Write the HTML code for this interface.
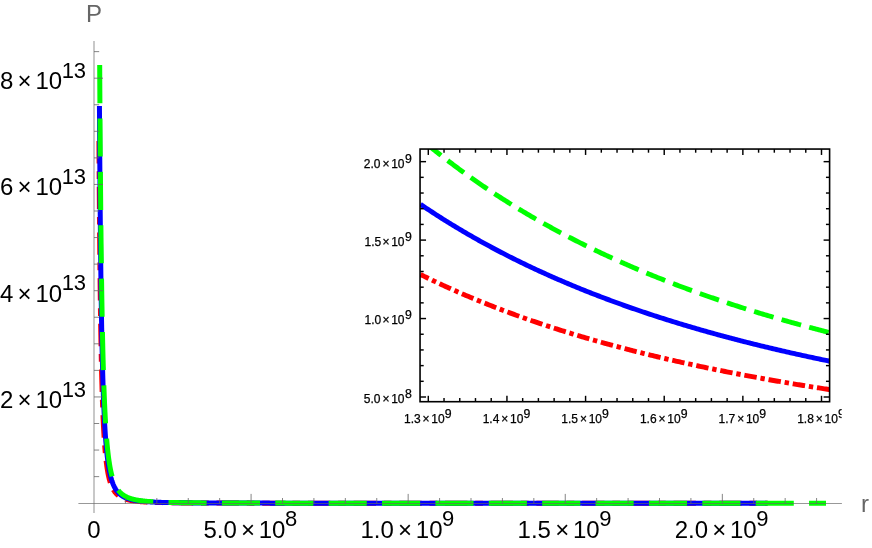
<!DOCTYPE html>
<html><head><meta charset="utf-8"><title>Plot</title>
<style>html,body{margin:0;padding:0;background:#fff;}body{width:872px;height:548px;overflow:hidden;position:relative;font-family:"Liberation Sans",sans-serif;}</style>
</head><body>
<svg width="872" height="548" viewBox="0 0 872 548" style="position:absolute;left:0;top:0;will-change:transform">
<rect width="872" height="548" fill="#fff"/>
<g fill="none" stroke-linecap="butt" stroke-linejoin="round" transform="translate(-0.4,0)">
<path d="M99.34 141.00 L99.38 148.27 L99.42 155.39 L99.47 162.37 L99.51 169.21 L99.56 175.91 L99.60 182.48 L99.65 188.91 L99.69 195.22 L99.74 201.40 L99.79 207.46 L99.83 213.39 L99.88 219.21 L99.93 224.90 L99.97 230.49 L100.02 235.96 L100.07 241.32 L100.12 246.58 L100.17 251.73 L100.22 256.77 L100.27 261.72 L100.32 266.56 L100.37 271.31 L100.42 275.97 L100.48 280.53 L100.53 284.99 L100.58 289.37 L100.64 293.66 L100.69 297.87 L100.74 301.99 L100.80 306.03 L100.85 309.98 L100.91 313.86 L100.96 317.66 L101.02 321.38 L101.08 325.03 L101.13 328.61 L101.19 332.11 L101.25 335.54 L101.31 338.91 L101.37 342.20 L101.43 345.43 L101.49 348.60 L101.55 351.70 L101.61 354.74 L101.67 357.72 L101.73 360.64 L101.80 363.50 L101.86 366.30 L101.92 369.05 L101.99 371.74 L102.05 374.38 L102.12 376.97 L102.18 379.50 L102.25 381.98 L102.32 384.41 L102.38 386.80 L102.45 389.13 L102.52 391.42 L102.59 393.66 L102.66 395.86 L102.73 398.02 L102.80 400.13 L102.87 402.20 L102.94 404.22 L103.01 406.21 L103.09 408.15 L103.16 410.06 L103.24 411.93 L103.31 413.76 L103.39 415.56 L103.46 417.32 L103.54 419.04 L103.62 420.73 L103.69 422.38 L103.77 424.00 L103.85 425.59 L103.93 427.15 L104.01 428.68 L104.09 430.17 L104.17 431.64 L104.26 433.07 L104.34 434.48 L104.42 435.86 L104.51 437.21 L104.59 438.53 L104.68 439.83 L104.76 441.10 L104.85 442.35 L104.94 443.57 L105.03 444.77 L105.12 445.94 L105.21 447.09 L105.30 448.22 L105.39 449.32 L105.48 450.40 L105.57 451.46 L105.67 452.50 L105.76 453.51 L105.86 454.51 L105.95 455.49 L106.05 456.45 L106.15 457.38 L106.25 458.30 L106.35 459.20 L106.45 460.09 L106.55 460.95 L106.65 461.80 L106.75 462.63 L106.85 463.45 L106.96 464.24 L107.06 465.02 L107.17 465.79 L107.28 466.54 L107.38 467.28 L107.49 468.00 L107.60 468.70 L107.71 469.40 L107.82 470.07 L107.93 470.74 L108.05 471.39 L108.16 472.03 L108.28 472.65 L108.39 473.27 L108.51 473.87 L108.62 474.46 L108.74 475.03 L108.86 475.60 L108.98 476.15 L109.10 476.70 L109.23 477.23 L109.35 477.75 L109.47 478.26 L109.60 478.76 L109.73 479.25 L109.85 479.73 L109.98 480.20 L110.11 480.66 L110.24 481.12 L110.37 481.56 L110.51 481.99 L110.64 482.42 L110.77 482.84 L110.91 483.24 L111.05 483.64 L111.18 484.04 L111.32 484.42 L111.46 484.80 L111.61 485.17 L111.75 485.53 L111.89 485.88 L112.04 486.23 L112.18 486.57 L112.33 486.91 L112.48 487.23 L112.63 487.55 L112.78 487.87 L112.93 488.17 L113.08 488.48 L113.24 488.77 L113.39 489.06 L113.55 489.34 L113.71 489.62 L113.87 489.90 L114.03 490.16 L114.19 490.42 L114.36 490.68 L114.52 490.93 L114.69 491.18 L114.85 491.42 L115.02 491.66 L115.19 491.89 L115.36 492.11 L115.54 492.34 L115.71 492.55 L115.89 492.77 L116.06 492.98 L116.24 493.18 L116.42 493.38 L116.61 493.58 L116.79 493.77 L116.97 493.96 L117.16 494.15 L117.35 494.33 L117.54 494.51 L117.73 494.68 L117.92 494.85 L118.11 495.02 L118.31 495.18 L118.50 495.35 L118.70 495.50 L118.90 495.66 L119.10 495.81 L119.31 495.96 L119.51 496.10 L119.72 496.24 L119.93 496.38 L120.14 496.52 L120.35 496.66 L120.56 496.79 L120.78 496.92 L120.99 497.04 L121.21 497.16 L121.43 497.29 L121.65 497.40 L121.88 497.52 L122.10 497.63 L122.33 497.75 L122.56 497.86 L122.79 497.96 L123.03 498.07 L123.26 498.17 L123.50 498.27 L123.74 498.37 L123.98 498.47 L124.22 498.56 L124.46 498.66 L124.71 498.75 L124.96 498.84 L125.21 498.92 L125.46 499.01 L125.72 499.09 L125.97 499.18 L126.23 499.26 L126.49 499.34 L126.76 499.41 L127.02 499.49 L127.29 499.56 L127.56 499.64 L127.83 499.71 L128.11 499.78 L128.38 499.85 L128.66 499.91 L128.94 499.98 L129.22 500.05 L129.51 500.11 L129.80 500.17 L130.09 500.23 L130.38 500.29 L130.67 500.35 L130.97 500.41 L131.27 500.46 L131.57 500.52 L131.88 500.57 L132.18 500.62 L132.49 500.68 L132.80 500.73 L133.12 500.78 L133.43 500.82 L133.75 500.87 L134.07 500.92 L134.40 500.96 L134.73 501.01 L135.06 501.05 L135.39 501.10 L135.72 501.14 L136.06 501.18 L136.40 501.22 L136.75 501.26 L137.09 501.30 L137.44 501.34 L137.79 501.37 L138.15 501.41 L138.50 501.45 L138.86 501.48 L139.23 501.52 L139.59 501.55 L139.96 501.58 L140.34 501.62 L140.71 501.65 L141.09 501.68 L141.47 501.71 L141.85 501.74 L142.24 501.77 L142.63 501.80 L143.03 501.83 L143.42 501.85 L143.82 501.88 L144.23 501.91 L144.63 501.93 L145.04 501.96 L145.46 501.98 L145.87 502.01 L146.29 502.03 L146.72 502.05 L147.14 502.08 L147.57 502.10 L148.01 502.12 L148.44 502.14 L148.89 502.17 L149.33 502.19 L149.78 502.21 L150.23 502.23 L150.68 502.25 L151.14 502.27 L151.61 502.28 L152.07 502.30 L152.54 502.32 L153.02 502.34 L153.49 502.36 L153.98 502.37 L154.46 502.39 L154.95 502.41 L155.45 502.42 L155.94 502.44 L156.44 502.45 L156.95 502.47 L157.46 502.48 L157.97 502.50 L158.49 502.51 L159.01 502.52 L159.54 502.54 L160.07 502.55 L160.61 502.56 L161.14 502.58 L161.69 502.59 L162.24 502.60 L162.79 502.61 L163.35 502.63 L163.91 502.64 L164.47 502.65 L165.04 502.66 L165.62 502.67 L166.20 502.68 L166.78 502.69 L167.37 502.70 L167.97 502.71 L168.57 502.72 L169.17 502.73 L169.78 502.74 L170.39 502.75 L171.01 502.76 L171.63 502.77 L172.26 502.78 L172.90 502.78 L173.54 502.79 L174.18 502.80 L174.83 502.81 L175.48 502.82 L176.14 502.82 L176.81 502.83 L177.48 502.84 L178.15 502.85 L178.84 502.85 L179.52 502.86 L180.22 502.87 L180.91 502.87 L181.62 502.88 L182.33 502.89 L183.04 502.89 L183.76 502.90 L184.49 502.91 L185.22 502.91 L185.96 502.92 L186.71 502.92 L187.46 502.93 L188.21 502.93 L188.98 502.94 L189.74 502.94 L190.52 502.95 L191.30 502.95 L192.09 502.96 L192.88 502.96 L193.68 502.97 L194.49 502.97 L195.30 502.98 L196.12 502.98 L196.95 502.99 L197.79 502.99 L198.63 503.00 L199.47 503.00 L200.33 503.00 L201.19 503.01 L202.06 503.01 L202.93 503.02 L203.81 503.02 L204.70 503.02 L205.60 503.03 L206.50 503.03 L207.41 503.03 L208.33 503.04 L209.26 503.04 L210.19 503.04 L211.13 503.05 L212.08 503.05 L213.03 503.05 L214.00 503.06 L214.97 503.06 L215.95 503.06 L216.94 503.06 L217.93 503.07 L218.94 503.07 L219.95 503.07 L220.97 503.07 L222.00 503.08 L223.03 503.08 L224.08 503.08 L225.13 503.08 L226.19 503.09 L227.26 503.09 L228.34 503.09 L229.43 503.09 L230.53 503.10 L231.63 503.10 L232.74 503.10 L233.87 503.10 L235.00 503.10 L236.14 503.11 L237.29 503.11 L238.45 503.11 L239.62 503.11 L240.80 503.11 L241.99 503.11 L243.19 503.12 L244.40 503.12 L245.61 503.12 L246.84 503.12 L248.08 503.12 L249.33 503.12 L250.59 503.13 L251.85 503.13 L253.13 503.13 L254.42 503.13 L255.72 503.13 L257.03 503.13 L258.35 503.13 L259.68 503.14 L261.02 503.14 L262.37 503.14 L263.74 503.14 L265.11 503.14 L266.50 503.14 L267.89 503.14 L269.30 503.14 L270.72 503.15 L272.15 503.15 L273.59 503.15 L275.05 503.15 L276.51 503.15 L277.99 503.15 L279.48 503.15 L280.98 503.15 L282.50 503.15 L284.02 503.15 L285.56 503.16 L287.11 503.16 L288.68 503.16 L290.25 503.16 L291.84 503.16 L293.44 503.16 L295.06 503.16 L296.69 503.16 L298.33 503.16 L299.98 503.16 L301.65 503.16 L303.33 503.16 L305.03 503.16 L306.73 503.17 L308.46 503.17 L310.19 503.17 L311.94 503.17 L313.71 503.17 L315.49 503.17 L317.28 503.17 L319.09 503.17 L320.91 503.17 L322.75 503.17 L324.60 503.17 L326.47 503.17 L328.35 503.17 L330.25 503.17 L332.16 503.17 L334.09 503.17 L336.03 503.18 L337.99 503.18 L339.97 503.18 L341.96 503.18 L343.97 503.18 L345.99 503.18 L348.03 503.18 L350.09 503.18 L352.16 503.18 L354.25 503.18 L356.36 503.18 L358.48 503.18 L360.62 503.18 L362.78 503.18 L364.96 503.18 L367.15 503.18 L369.37 503.18 L371.59 503.18 L373.84 503.18 L376.11 503.18 L378.39 503.18 L380.70 503.18 L383.02 503.18 L385.36 503.18 L387.72 503.18 L390.09 503.19 L392.49 503.19 L394.91 503.19 L397.34 503.19 L399.80 503.19 L402.28 503.19 L404.77 503.19 L407.29 503.19 L409.83 503.19 L412.38 503.19 L414.96 503.19 L417.56 503.19 L420.18 503.19 L422.82 503.19 L425.48 503.19 L428.17 503.19 L430.87 503.19 L433.60 503.19 L436.35 503.19 L439.12 503.19 L441.92 503.19 L444.73 503.19 L447.57 503.19 L450.44 503.19 L453.32 503.19 L456.23 503.19 L459.16 503.19 L462.12 503.19 L465.10 503.19 L468.11 503.19 L471.14 503.19 L474.19 503.19 L477.27 503.19 L480.37 503.19 L483.50 503.19 L486.65 503.19 L489.83 503.19 L493.04 503.19 L496.27 503.19 L499.52 503.19 L502.81 503.19 L506.12 503.19 L509.46 503.19 L512.82 503.19 L516.21 503.19 L519.63 503.19 L523.08 503.19 L526.55 503.19 L530.05 503.19 L533.58 503.19 L537.14 503.19 L540.73 503.19 L544.35 503.19 L547.99 503.19 L551.67 503.19 L555.37 503.20 L559.11 503.20 L562.88 503.20 L566.67 503.20 L570.50 503.20 L574.36 503.20 L578.25 503.20 L582.17 503.20 L586.12 503.20 L590.11 503.20 L594.12 503.20 L598.17 503.20 L602.25 503.20 L606.37 503.20 L610.52 503.20 L614.70 503.20 L618.92 503.20 L623.17 503.20 L627.45 503.20 L631.77 503.20 L636.12 503.20 L640.51 503.20 L644.94 503.20 L649.40 503.20 L653.90 503.20 L658.43 503.20 L663.00 503.20 L667.61 503.20 L672.25 503.20 L676.93 503.20 L681.65 503.20 L686.41 503.20 L691.21 503.20 L696.04 503.20 L700.92 503.20 L705.83 503.20 L710.79 503.20 L715.78 503.20 L720.82 503.20 L725.89 503.20 L731.01 503.20 L736.16 503.20 L741.36 503.20 L746.61 503.20 L751.89 503.20 L757.22 503.20 L762.59 503.20 L768.00 503.20" stroke="#ff0000" stroke-width="5.00" stroke-dasharray="22.4 7.8 7.7 7.8"/>
<path d="M99.84 106.00 L99.89 113.84 L99.94 121.52 L99.98 129.05 L100.03 136.44 L100.08 143.68 L100.13 150.77 L100.17 157.73 L100.22 164.54 L100.27 171.23 L100.32 177.78 L100.37 184.20 L100.42 190.50 L100.47 196.67 L100.53 202.72 L100.58 208.65 L100.63 214.46 L100.68 220.16 L100.74 225.74 L100.79 231.22 L100.84 236.59 L100.90 241.85 L100.95 247.01 L101.01 252.06 L101.06 257.02 L101.12 261.88 L101.18 266.64 L101.23 271.31 L101.29 275.88 L101.35 280.37 L101.41 284.77 L101.47 289.08 L101.53 293.30 L101.59 297.45 L101.65 301.51 L101.71 305.49 L101.77 309.39 L101.83 313.21 L101.89 316.96 L101.95 320.64 L102.02 324.24 L102.08 327.77 L102.15 331.23 L102.21 334.63 L102.28 337.95 L102.34 341.22 L102.41 344.41 L102.47 347.55 L102.54 350.62 L102.61 353.63 L102.68 356.58 L102.75 359.47 L102.82 362.31 L102.89 365.09 L102.96 367.82 L103.03 370.49 L103.10 373.11 L103.17 375.67 L103.24 378.19 L103.32 380.66 L103.39 383.08 L103.47 385.45 L103.54 387.77 L103.62 390.05 L103.69 392.28 L103.77 394.47 L103.85 396.62 L103.93 398.72 L104.01 400.78 L104.09 402.80 L104.17 404.78 L104.25 406.73 L104.33 408.63 L104.41 410.50 L104.49 412.33 L104.58 414.12 L104.66 415.88 L104.74 417.60 L104.83 419.29 L104.92 420.95 L105.00 422.57 L105.09 424.16 L105.18 425.72 L105.27 427.25 L105.36 428.75 L105.45 430.22 L105.54 431.66 L105.63 433.07 L105.72 434.45 L105.81 435.81 L105.91 437.14 L106.00 438.44 L106.10 439.72 L106.19 440.97 L106.29 442.20 L106.39 443.41 L106.49 444.59 L106.59 445.74 L106.69 446.88 L106.79 447.99 L106.89 449.08 L106.99 450.15 L107.10 451.19 L107.20 452.22 L107.30 453.23 L107.41 454.21 L107.52 455.18 L107.62 456.13 L107.73 457.06 L107.84 457.97 L107.95 458.86 L108.06 459.73 L108.17 460.59 L108.29 461.43 L108.40 462.26 L108.51 463.06 L108.63 463.86 L108.75 464.63 L108.86 465.39 L108.98 466.14 L109.10 466.87 L109.22 467.59 L109.34 468.29 L109.46 468.98 L109.59 469.66 L109.71 470.32 L109.83 470.97 L109.96 471.60 L110.09 472.23 L110.21 472.84 L110.34 473.44 L110.47 474.02 L110.60 474.60 L110.74 475.16 L110.87 475.72 L111.00 476.26 L111.14 476.79 L111.27 477.31 L111.41 477.82 L111.55 478.32 L111.69 478.82 L111.83 479.30 L111.97 479.77 L112.11 480.23 L112.26 480.68 L112.40 481.13 L112.55 481.56 L112.70 481.99 L112.85 482.41 L113.00 482.82 L113.15 483.22 L113.30 483.62 L113.45 484.00 L113.61 484.38 L113.76 484.75 L113.92 485.12 L114.08 485.47 L114.24 485.82 L114.40 486.17 L114.56 486.50 L114.72 486.83 L114.89 487.16 L115.05 487.47 L115.22 487.78 L115.39 488.09 L115.56 488.38 L115.73 488.68 L115.90 488.96 L116.08 489.24 L116.25 489.52 L116.43 489.79 L116.61 490.05 L116.79 490.31 L116.97 490.57 L117.15 490.82 L117.33 491.06 L117.52 491.30 L117.71 491.54 L117.90 491.77 L118.09 491.99 L118.28 492.21 L118.47 492.43 L118.66 492.64 L118.86 492.85 L119.06 493.06 L119.26 493.26 L119.46 493.45 L119.66 493.64 L119.86 493.83 L120.07 494.02 L120.28 494.20 L120.48 494.38 L120.69 494.55 L120.91 494.72 L121.12 494.89 L121.34 495.05 L121.55 495.21 L121.77 495.37 L121.99 495.53 L122.22 495.68 L122.44 495.83 L122.67 495.97 L122.89 496.11 L123.12 496.25 L123.35 496.39 L123.59 496.53 L123.82 496.66 L124.06 496.79 L124.30 496.91 L124.54 497.04 L124.78 497.16 L125.03 497.28 L125.27 497.39 L125.52 497.51 L125.77 497.62 L126.02 497.73 L126.28 497.84 L126.53 497.94 L126.79 498.05 L127.05 498.15 L127.32 498.25 L127.58 498.35 L127.85 498.44 L128.12 498.54 L128.39 498.63 L128.66 498.72 L128.94 498.81 L129.21 498.89 L129.49 498.98 L129.78 499.06 L130.06 499.14 L130.35 499.22 L130.64 499.30 L130.93 499.38 L131.22 499.46 L131.52 499.53 L131.81 499.60 L132.11 499.67 L132.42 499.74 L132.72 499.81 L133.03 499.88 L133.34 499.94 L133.65 500.01 L133.97 500.07 L134.28 500.13 L134.61 500.19 L134.93 500.25 L135.25 500.31 L135.58 500.37 L135.91 500.42 L136.24 500.48 L136.58 500.53 L136.92 500.58 L137.26 500.64 L137.60 500.69 L137.95 500.74 L138.30 500.78 L138.65 500.83 L139.00 500.88 L139.36 500.92 L139.72 500.97 L140.09 501.01 L140.45 501.06 L140.82 501.10 L141.19 501.14 L141.57 501.18 L141.95 501.22 L142.33 501.26 L142.71 501.30 L143.10 501.34 L143.49 501.37 L143.88 501.41 L144.28 501.44 L144.68 501.48 L145.08 501.51 L145.49 501.55 L145.89 501.58 L146.31 501.61 L146.72 501.64 L147.14 501.67 L147.56 501.70 L147.99 501.73 L148.42 501.76 L148.85 501.79 L149.29 501.82 L149.73 501.84 L150.17 501.87 L150.61 501.90 L151.06 501.92 L151.52 501.95 L151.97 501.97 L152.44 502.00 L152.90 502.02 L153.37 502.04 L153.84 502.07 L154.31 502.09 L154.79 502.11 L155.28 502.13 L155.76 502.15 L156.25 502.17 L156.75 502.20 L157.25 502.21 L157.75 502.23 L158.26 502.25 L158.77 502.27 L159.28 502.29 L159.80 502.31 L160.32 502.33 L160.85 502.34 L161.38 502.36 L161.92 502.38 L162.46 502.39 L163.00 502.41 L163.55 502.42 L164.10 502.44 L164.66 502.45 L165.22 502.47 L165.78 502.48 L166.36 502.50 L166.93 502.51 L167.51 502.53 L168.09 502.54 L168.68 502.55 L169.28 502.56 L169.87 502.58 L170.48 502.59 L171.08 502.60 L171.70 502.61 L172.31 502.62 L172.94 502.64 L173.56 502.65 L174.20 502.66 L174.83 502.67 L175.47 502.68 L176.12 502.69 L176.77 502.70 L177.43 502.71 L178.09 502.72 L178.76 502.73 L179.44 502.74 L180.12 502.75 L180.80 502.76 L181.49 502.76 L182.18 502.77 L182.88 502.78 L183.59 502.79 L184.30 502.80 L185.02 502.81 L185.74 502.81 L186.47 502.82 L187.21 502.83 L187.95 502.84 L188.69 502.84 L189.45 502.85 L190.20 502.86 L190.97 502.86 L191.74 502.87 L192.52 502.88 L193.30 502.88 L194.09 502.89 L194.88 502.90 L195.68 502.90 L196.49 502.91 L197.31 502.91 L198.13 502.92 L198.95 502.92 L199.79 502.93 L200.63 502.94 L201.48 502.94 L202.33 502.95 L203.19 502.95 L204.06 502.96 L204.93 502.96 L205.81 502.97 L206.70 502.97 L207.60 502.97 L208.50 502.98 L209.41 502.98 L210.33 502.99 L211.25 502.99 L212.18 503.00 L213.12 503.00 L214.07 503.00 L215.02 503.01 L215.98 503.01 L216.95 503.02 L217.93 503.02 L218.91 503.02 L219.91 503.03 L220.91 503.03 L221.92 503.03 L222.93 503.04 L223.96 503.04 L224.99 503.04 L226.03 503.05 L227.08 503.05 L228.14 503.05 L229.20 503.05 L230.28 503.06 L231.36 503.06 L232.45 503.06 L233.55 503.07 L234.66 503.07 L235.78 503.07 L236.90 503.07 L238.04 503.08 L239.18 503.08 L240.34 503.08 L241.50 503.08 L242.67 503.09 L243.85 503.09 L245.04 503.09 L246.24 503.09 L247.45 503.09 L248.67 503.10 L249.90 503.10 L251.14 503.10 L252.39 503.10 L253.64 503.10 L254.91 503.11 L256.19 503.11 L257.48 503.11 L258.78 503.11 L260.09 503.11 L261.41 503.12 L262.74 503.12 L264.08 503.12 L265.43 503.12 L266.79 503.12 L268.16 503.12 L269.55 503.12 L270.94 503.13 L272.35 503.13 L273.77 503.13 L275.19 503.13 L276.63 503.13 L278.08 503.13 L279.55 503.13 L281.02 503.14 L282.51 503.14 L284.00 503.14 L285.51 503.14 L287.04 503.14 L288.57 503.14 L290.12 503.14 L291.67 503.14 L293.24 503.15 L294.83 503.15 L296.42 503.15 L298.03 503.15 L299.65 503.15 L301.29 503.15 L302.93 503.15 L304.59 503.15 L306.27 503.15 L307.95 503.15 L309.65 503.16 L311.37 503.16 L313.09 503.16 L314.83 503.16 L316.59 503.16 L318.36 503.16 L320.14 503.16 L321.94 503.16 L323.75 503.16 L325.57 503.16 L327.41 503.16 L329.27 503.16 L331.14 503.16 L333.02 503.17 L334.92 503.17 L336.83 503.17 L338.76 503.17 L340.71 503.17 L342.67 503.17 L344.64 503.17 L346.63 503.17 L348.64 503.17 L350.66 503.17 L352.70 503.17 L354.76 503.17 L356.83 503.17 L358.92 503.17 L361.02 503.17 L363.14 503.17 L365.28 503.17 L367.44 503.18 L369.61 503.18 L371.80 503.18 L374.01 503.18 L376.23 503.18 L378.47 503.18 L380.73 503.18 L383.01 503.18 L385.31 503.18 L387.62 503.18 L389.96 503.18 L392.31 503.18 L394.68 503.18 L397.07 503.18 L399.47 503.18 L401.90 503.18 L404.35 503.18 L406.81 503.18 L409.30 503.18 L411.80 503.18 L414.33 503.18 L416.87 503.18 L419.44 503.18 L422.03 503.18 L424.63 503.18 L427.26 503.19 L429.91 503.19 L432.57 503.19 L435.26 503.19 L437.98 503.19 L440.71 503.19 L443.46 503.19 L446.24 503.19 L449.04 503.19 L451.86 503.19 L454.70 503.19 L457.57 503.19 L460.46 503.19 L463.37 503.19 L466.30 503.19 L469.26 503.19 L472.24 503.19 L475.25 503.19 L478.28 503.19 L481.33 503.19 L484.41 503.19 L487.51 503.19 L490.64 503.19 L493.79 503.19 L496.96 503.19 L500.16 503.19 L503.39 503.19 L506.64 503.19 L509.92 503.19 L513.23 503.19 L516.56 503.19 L519.91 503.19 L523.30 503.19 L526.71 503.19 L530.15 503.19 L533.61 503.19 L537.11 503.19 L540.63 503.19 L544.17 503.19 L547.75 503.19 L551.36 503.19 L554.99 503.19 L558.65 503.19 L562.34 503.19 L566.07 503.19 L569.82 503.19 L573.60 503.19 L577.41 503.19 L581.25 503.19 L585.12 503.19 L589.02 503.19 L592.95 503.19 L596.92 503.19 L600.91 503.19 L604.94 503.19 L609.00 503.19 L613.09 503.20 L617.22 503.20 L621.37 503.20 L625.56 503.20 L629.79 503.20 L634.04 503.20 L638.33 503.20 L642.66 503.20 L647.02 503.20 L651.41 503.20 L655.84 503.20 L660.30 503.20 L664.80 503.20 L669.34 503.20 L673.91 503.20 L678.52 503.20 L683.16 503.20 L687.84 503.20 L692.56 503.20 L697.31 503.20 L702.11 503.20 L706.94 503.20 L711.81 503.20 L716.72 503.20 L721.67 503.20 L726.65 503.20 L731.68 503.20 L736.75 503.20 L741.85 503.20 L747.00 503.20 L752.19 503.20 L757.42 503.20 L762.69 503.20 L768.00 503.20" stroke="#0000ff" stroke-width="5.00"/>
<path d="M100.09 65.10 L100.14 73.81 L100.18 82.34 L100.23 90.70 L100.28 98.90 L100.33 106.94 L100.39 114.81 L100.44 122.53 L100.49 130.09 L100.54 137.51 L100.59 144.78 L100.65 151.90 L100.70 158.88 L100.75 165.72 L100.81 172.43 L100.86 179.00 L100.92 185.45 L100.97 191.76 L101.03 197.95 L101.08 204.02 L101.14 209.96 L101.20 215.79 L101.26 221.50 L101.31 227.10 L101.37 232.59 L101.43 237.96 L101.49 243.24 L101.55 248.40 L101.61 253.47 L101.67 258.43 L101.73 263.29 L101.80 268.06 L101.86 272.73 L101.92 277.31 L101.99 281.80 L102.05 286.20 L102.11 290.52 L102.18 294.74 L102.24 298.88 L102.31 302.94 L102.38 306.92 L102.44 310.83 L102.51 314.65 L102.58 318.40 L102.65 322.07 L102.72 325.67 L102.79 329.20 L102.86 332.65 L102.93 336.04 L103.00 339.37 L103.07 342.62 L103.15 345.81 L103.22 348.94 L103.29 352.01 L103.37 355.01 L103.44 357.96 L103.52 360.84 L103.59 363.67 L103.67 366.44 L103.75 369.16 L103.83 371.83 L103.91 374.44 L103.99 376.99 L104.07 379.50 L104.15 381.96 L104.23 384.37 L104.31 386.73 L104.39 389.05 L104.48 391.32 L104.56 393.54 L104.64 395.72 L104.73 397.85 L104.82 399.95 L104.90 402.00 L104.99 404.01 L105.08 405.98 L105.17 407.91 L105.26 409.81 L105.35 411.66 L105.44 413.48 L105.53 415.27 L105.62 417.01 L105.71 418.73 L105.81 420.40 L105.90 422.05 L106.00 423.66 L106.09 425.24 L106.19 426.79 L106.29 428.31 L106.39 429.80 L106.49 431.26 L106.59 432.69 L106.69 434.09 L106.79 435.46 L106.89 436.81 L107.00 438.13 L107.10 439.42 L107.20 440.69 L107.31 441.93 L107.42 443.15 L107.52 444.34 L107.63 445.51 L107.74 446.66 L107.85 447.78 L107.96 448.88 L108.08 449.96 L108.19 451.02 L108.30 452.06 L108.42 453.07 L108.53 454.07 L108.65 455.05 L108.77 456.00 L108.88 456.94 L109.00 457.86 L109.12 458.76 L109.25 459.64 L109.37 460.51 L109.49 461.36 L109.61 462.19 L109.74 463.01 L109.87 463.80 L109.99 464.59 L110.12 465.35 L110.25 466.11 L110.38 466.84 L110.51 467.57 L110.64 468.27 L110.78 468.97 L110.91 469.65 L111.05 470.32 L111.18 470.97 L111.32 471.61 L111.46 472.24 L111.60 472.85 L111.74 473.46 L111.88 474.05 L112.03 474.63 L112.17 475.19 L112.32 475.75 L112.47 476.30 L112.61 476.83 L112.76 477.35 L112.91 477.87 L113.06 478.37 L113.22 478.87 L113.37 479.35 L113.53 479.82 L113.68 480.29 L113.84 480.74 L114.00 481.19 L114.16 481.63 L114.32 482.06 L114.48 482.48 L114.65 482.89 L114.81 483.29 L114.98 483.69 L115.15 484.07 L115.32 484.45 L115.49 484.83 L115.66 485.19 L115.84 485.55 L116.01 485.90 L116.19 486.24 L116.36 486.58 L116.54 486.91 L116.72 487.24 L116.91 487.55 L117.09 487.86 L117.28 488.17 L117.46 488.47 L117.65 488.76 L117.84 489.05 L118.03 489.33 L118.22 489.60 L118.42 489.87 L118.61 490.14 L118.81 490.40 L119.01 490.65 L119.21 490.90 L119.41 491.15 L119.62 491.39 L119.82 491.62 L120.03 491.85 L120.24 492.08 L120.45 492.30 L120.66 492.51 L120.87 492.73 L121.09 492.93 L121.31 493.14 L121.52 493.34 L121.74 493.53 L121.97 493.73 L122.19 493.92 L122.42 494.10 L122.64 494.28 L122.87 494.46 L123.11 494.63 L123.34 494.80 L123.57 494.97 L123.81 495.13 L124.05 495.29 L124.29 495.45 L124.53 495.60 L124.78 495.75 L125.03 495.90 L125.27 496.05 L125.52 496.19 L125.78 496.33 L126.03 496.47 L126.29 496.60 L126.55 496.73 L126.81 496.86 L127.07 496.99 L127.34 497.11 L127.60 497.23 L127.87 497.35 L128.15 497.46 L128.42 497.58 L128.69 497.69 L128.97 497.80 L129.25 497.91 L129.54 498.01 L129.82 498.12 L130.11 498.22 L130.40 498.32 L130.69 498.41 L130.98 498.51 L131.28 498.60 L131.58 498.69 L131.88 498.78 L132.18 498.87 L132.49 498.96 L132.80 499.04 L133.11 499.12 L133.42 499.20 L133.74 499.28 L134.06 499.36 L134.38 499.44 L134.70 499.51 L135.03 499.59 L135.36 499.66 L135.69 499.73 L136.02 499.80 L136.36 499.86 L136.70 499.93 L137.04 500.00 L137.39 500.06 L137.73 500.12 L138.08 500.18 L138.44 500.24 L138.79 500.30 L139.15 500.36 L139.51 500.42 L139.88 500.47 L140.25 500.53 L140.62 500.58 L140.99 500.63 L141.37 500.68 L141.75 500.73 L142.13 500.78 L142.52 500.83 L142.90 500.88 L143.30 500.92 L143.69 500.97 L144.09 501.01 L144.49 501.06 L144.90 501.10 L145.30 501.14 L145.72 501.18 L146.13 501.22 L146.55 501.26 L146.97 501.30 L147.39 501.34 L147.82 501.37 L148.25 501.41 L148.69 501.45 L149.13 501.48 L149.57 501.51 L150.01 501.55 L150.46 501.58 L150.92 501.61 L151.37 501.64 L151.83 501.68 L152.30 501.71 L152.76 501.74 L153.23 501.76 L153.71 501.79 L154.19 501.82 L154.67 501.85 L155.16 501.88 L155.65 501.90 L156.14 501.93 L156.64 501.95 L157.14 501.98 L157.65 502.00 L158.16 502.03 L158.67 502.05 L159.19 502.07 L159.71 502.09 L160.24 502.12 L160.77 502.14 L161.30 502.16 L161.84 502.18 L162.39 502.20 L162.94 502.22 L163.49 502.24 L164.05 502.26 L164.61 502.28 L165.17 502.30 L165.74 502.31 L166.32 502.33 L166.90 502.35 L167.48 502.37 L168.07 502.38 L168.66 502.40 L169.26 502.41 L169.87 502.43 L170.47 502.44 L171.09 502.46 L171.71 502.47 L172.33 502.49 L172.96 502.50 L173.59 502.52 L174.23 502.53 L174.87 502.54 L175.52 502.56 L176.17 502.57 L176.83 502.58 L177.49 502.59 L178.16 502.61 L178.84 502.62 L179.52 502.63 L180.20 502.64 L180.89 502.65 L181.59 502.66 L182.29 502.67 L183.00 502.68 L183.71 502.69 L184.43 502.70 L185.16 502.71 L185.89 502.72 L186.63 502.73 L187.37 502.74 L188.12 502.75 L188.87 502.76 L189.63 502.77 L190.40 502.78 L191.17 502.79 L191.95 502.79 L192.73 502.80 L193.53 502.81 L194.32 502.82 L195.13 502.83 L195.94 502.83 L196.76 502.84 L197.58 502.85 L198.41 502.85 L199.25 502.86 L200.09 502.87 L200.94 502.87 L201.80 502.88 L202.66 502.89 L203.53 502.89 L204.41 502.90 L205.30 502.91 L206.19 502.91 L207.09 502.92 L207.99 502.92 L208.91 502.93 L209.83 502.93 L210.76 502.94 L211.69 502.94 L212.64 502.95 L213.59 502.95 L214.55 502.96 L215.51 502.96 L216.49 502.97 L217.47 502.97 L218.46 502.98 L219.45 502.98 L220.46 502.99 L221.47 502.99 L222.50 503.00 L223.53 503.00 L224.56 503.00 L225.61 503.01 L226.67 503.01 L227.73 503.01 L228.80 503.02 L229.88 503.02 L230.97 503.03 L232.07 503.03 L233.18 503.03 L234.29 503.04 L235.42 503.04 L236.55 503.04 L237.69 503.05 L238.84 503.05 L240.00 503.05 L241.17 503.05 L242.35 503.06 L243.54 503.06 L244.74 503.06 L245.95 503.07 L247.17 503.07 L248.40 503.07 L249.63 503.07 L250.88 503.08 L252.14 503.08 L253.41 503.08 L254.68 503.08 L255.97 503.09 L257.27 503.09 L258.58 503.09 L259.90 503.09 L261.23 503.09 L262.57 503.10 L263.92 503.10 L265.28 503.10 L266.65 503.10 L268.04 503.10 L269.43 503.11 L270.84 503.11 L272.26 503.11 L273.69 503.11 L275.13 503.11 L276.58 503.12 L278.04 503.12 L279.52 503.12 L281.00 503.12 L282.50 503.12 L284.01 503.12 L285.54 503.12 L287.07 503.13 L288.62 503.13 L290.18 503.13 L291.75 503.13 L293.34 503.13 L294.93 503.13 L296.55 503.13 L298.17 503.14 L299.81 503.14 L301.46 503.14 L303.12 503.14 L304.79 503.14 L306.48 503.14 L308.19 503.14 L309.90 503.14 L311.63 503.15 L313.38 503.15 L315.14 503.15 L316.91 503.15 L318.70 503.15 L320.50 503.15 L322.31 503.15 L324.14 503.15 L325.99 503.15 L327.85 503.15 L329.72 503.16 L331.61 503.16 L333.52 503.16 L335.44 503.16 L337.37 503.16 L339.32 503.16 L341.29 503.16 L343.27 503.16 L345.27 503.16 L347.28 503.16 L349.31 503.16 L351.36 503.16 L353.42 503.16 L355.50 503.17 L357.60 503.17 L359.71 503.17 L361.84 503.17 L363.99 503.17 L366.15 503.17 L368.33 503.17 L370.53 503.17 L372.75 503.17 L374.98 503.17 L377.23 503.17 L379.51 503.17 L381.79 503.17 L384.10 503.17 L386.43 503.17 L388.77 503.17 L391.13 503.18 L393.51 503.18 L395.91 503.18 L398.33 503.18 L400.77 503.18 L403.23 503.18 L405.71 503.18 L408.21 503.18 L410.73 503.18 L413.27 503.18 L415.83 503.18 L418.41 503.18 L421.01 503.18 L423.63 503.18 L426.27 503.18 L428.93 503.18 L431.62 503.18 L434.32 503.18 L437.05 503.18 L439.80 503.18 L442.57 503.18 L445.37 503.18 L448.18 503.18 L451.02 503.18 L453.89 503.18 L456.77 503.18 L459.68 503.19 L462.61 503.19 L465.56 503.19 L468.54 503.19 L471.54 503.19 L474.57 503.19 L477.62 503.19 L480.70 503.19 L483.79 503.19 L486.92 503.19 L490.07 503.19 L493.24 503.19 L496.44 503.19 L499.67 503.19 L502.92 503.19 L506.20 503.19 L509.50 503.19 L512.83 503.19 L516.19 503.19 L519.57 503.19 L522.99 503.19 L526.42 503.19 L529.89 503.19 L533.38 503.19 L536.91 503.19 L540.46 503.19 L544.04 503.19 L547.64 503.19 L551.28 503.19 L554.94 503.19 L558.64 503.19 L562.36 503.19 L566.12 503.19 L569.90 503.19 L573.72 503.19 L577.56 503.19 L581.44 503.19 L585.34 503.19 L589.28 503.19 L593.25 503.19 L597.25 503.19 L601.29 503.19 L605.35 503.19 L609.45 503.19 L613.59 503.19 L617.75 503.19 L621.95 503.19 L626.18 503.19 L630.45 503.19 L634.75 503.19 L639.08 503.19 L643.45 503.19 L647.85 503.19 L652.29 503.19 L656.77 503.20 L661.28 503.20 L665.83 503.20 L670.41 503.20 L675.03 503.20 L679.69 503.20 L684.38 503.20 L689.11 503.20 L693.88 503.20 L698.69 503.20 L703.54 503.20 L708.43 503.20 L713.35 503.20 L718.31 503.20 L723.32 503.20 L728.36 503.20 L733.45 503.20 L738.57 503.20 L743.74 503.20 L748.95 503.20 L754.20 503.20 L759.49 503.20 L764.82 503.20 L770.20 503.20 L775.62 503.20 L781.08 503.20 L786.59 503.20 L792.14 503.20 L797.74 503.20 L803.38 503.20 L809.07 503.20 L814.80 503.20 L820.58 503.20 L826.40 503.20" stroke="#00ff00" stroke-width="5.00" stroke-dasharray="38.10 15.28"/>
</g>
<g stroke="#666" stroke-width="1" fill="none" stroke-opacity="0.8">
<line x1="78.4" y1="503.5" x2="841.9" y2="503.5" stroke-opacity="0.67"/>
<line x1="94" y1="41" x2="94" y2="513" stroke-opacity="0.72"/>
<line x1="94" y1="476.63" x2="99.20" y2="476.63"/>
<line x1="94" y1="450.06" x2="99.20" y2="450.06"/>
<line x1="94" y1="423.50" x2="99.20" y2="423.50"/>
<line x1="94" y1="396.94" x2="103.00" y2="396.94"/>
<line x1="94" y1="370.38" x2="99.20" y2="370.38"/>
<line x1="94" y1="343.81" x2="99.20" y2="343.81"/>
<line x1="94" y1="317.25" x2="99.20" y2="317.25"/>
<line x1="94" y1="290.69" x2="103.00" y2="290.69"/>
<line x1="94" y1="264.13" x2="99.20" y2="264.13"/>
<line x1="94" y1="237.56" x2="99.20" y2="237.56"/>
<line x1="94" y1="211.00" x2="99.20" y2="211.00"/>
<line x1="94" y1="184.44" x2="103.00" y2="184.44"/>
<line x1="94" y1="157.88" x2="99.20" y2="157.88"/>
<line x1="94" y1="131.31" x2="99.20" y2="131.31"/>
<line x1="94" y1="104.75" x2="99.20" y2="104.75"/>
<line x1="94" y1="78.19" x2="103.00" y2="78.19"/>
<line x1="94" y1="51.63" x2="99.20" y2="51.63"/>
<line x1="125.42" y1="503.5" x2="125.42" y2="498.00"/>
<line x1="156.83" y1="503.5" x2="156.83" y2="498.00"/>
<line x1="188.25" y1="503.5" x2="188.25" y2="498.00"/>
<line x1="219.67" y1="503.5" x2="219.67" y2="498.00"/>
<line x1="251.09" y1="503.5" x2="251.09" y2="493.90"/>
<line x1="282.50" y1="503.5" x2="282.50" y2="498.00"/>
<line x1="313.92" y1="503.5" x2="313.92" y2="498.00"/>
<line x1="345.34" y1="503.5" x2="345.34" y2="498.00"/>
<line x1="376.75" y1="503.5" x2="376.75" y2="498.00"/>
<line x1="408.17" y1="503.5" x2="408.17" y2="493.90"/>
<line x1="439.59" y1="503.5" x2="439.59" y2="498.00"/>
<line x1="471.00" y1="503.5" x2="471.00" y2="498.00"/>
<line x1="502.42" y1="503.5" x2="502.42" y2="498.00"/>
<line x1="533.84" y1="503.5" x2="533.84" y2="498.00"/>
<line x1="565.25" y1="503.5" x2="565.25" y2="493.90"/>
<line x1="596.67" y1="503.5" x2="596.67" y2="498.00"/>
<line x1="628.09" y1="503.5" x2="628.09" y2="498.00"/>
<line x1="659.51" y1="503.5" x2="659.51" y2="498.00"/>
<line x1="690.92" y1="503.5" x2="690.92" y2="498.00"/>
<line x1="722.34" y1="503.5" x2="722.34" y2="493.90"/>
<line x1="753.76" y1="503.5" x2="753.76" y2="498.00"/>
<line x1="785.17" y1="503.5" x2="785.17" y2="498.00"/>
<line x1="816.59" y1="503.5" x2="816.59" y2="498.00"/>
</g>
<text x="94.00" y="537.60" font-size="24.00" fill="#000" text-anchor="middle" font-family="Liberation Sans, sans-serif">0</text>
<text x="203.40" y="537.60" font-size="24.00" fill="#000" text-anchor="start" font-family="Liberation Sans, sans-serif">5.0</text>
<text x="241.00" y="537.60" font-size="24.00" fill="#000" text-anchor="start" font-family="Liberation Sans, sans-serif">×</text>
<text x="258.70" y="537.60" font-size="24.00" fill="#000" text-anchor="start" font-family="Liberation Sans, sans-serif">10</text>
<text x="285.00" y="526.40" font-size="22.00" fill="#000" text-anchor="start" font-family="Liberation Sans, sans-serif">8</text>
<text x="360.50" y="537.60" font-size="24.00" fill="#000" text-anchor="start" font-family="Liberation Sans, sans-serif">1.0</text>
<text x="398.10" y="537.60" font-size="24.00" fill="#000" text-anchor="start" font-family="Liberation Sans, sans-serif">×</text>
<text x="415.80" y="537.60" font-size="24.00" fill="#000" text-anchor="start" font-family="Liberation Sans, sans-serif">10</text>
<text x="442.10" y="526.40" font-size="22.00" fill="#000" text-anchor="start" font-family="Liberation Sans, sans-serif">9</text>
<text x="517.60" y="537.60" font-size="24.00" fill="#000" text-anchor="start" font-family="Liberation Sans, sans-serif">1.5</text>
<text x="555.20" y="537.60" font-size="24.00" fill="#000" text-anchor="start" font-family="Liberation Sans, sans-serif">×</text>
<text x="572.90" y="537.60" font-size="24.00" fill="#000" text-anchor="start" font-family="Liberation Sans, sans-serif">10</text>
<text x="599.20" y="526.40" font-size="22.00" fill="#000" text-anchor="start" font-family="Liberation Sans, sans-serif">9</text>
<text x="674.70" y="537.60" font-size="24.00" fill="#000" text-anchor="start" font-family="Liberation Sans, sans-serif">2.0</text>
<text x="712.30" y="537.60" font-size="24.00" fill="#000" text-anchor="start" font-family="Liberation Sans, sans-serif">×</text>
<text x="730.00" y="537.60" font-size="24.00" fill="#000" text-anchor="start" font-family="Liberation Sans, sans-serif">10</text>
<text x="756.30" y="526.40" font-size="22.00" fill="#000" text-anchor="start" font-family="Liberation Sans, sans-serif">9</text>
<text x="-0.04" y="407.84" font-size="24.00" fill="#000" text-anchor="start" font-family="Liberation Sans, sans-serif">2</text>
<text x="17.54" y="407.84" font-size="24.00" fill="#000" text-anchor="start" font-family="Liberation Sans, sans-serif">×</text>
<text x="35.48" y="407.84" font-size="24.00" fill="#000" text-anchor="start" font-family="Liberation Sans, sans-serif">10</text>
<text x="61.63" y="396.54" font-size="22.00" fill="#000" text-anchor="start" font-family="Liberation Sans, sans-serif">13</text>
<text x="-0.04" y="301.59" font-size="24.00" fill="#000" text-anchor="start" font-family="Liberation Sans, sans-serif">4</text>
<text x="17.54" y="301.59" font-size="24.00" fill="#000" text-anchor="start" font-family="Liberation Sans, sans-serif">×</text>
<text x="35.48" y="301.59" font-size="24.00" fill="#000" text-anchor="start" font-family="Liberation Sans, sans-serif">10</text>
<text x="61.63" y="290.29" font-size="22.00" fill="#000" text-anchor="start" font-family="Liberation Sans, sans-serif">13</text>
<text x="-0.04" y="195.34" font-size="24.00" fill="#000" text-anchor="start" font-family="Liberation Sans, sans-serif">6</text>
<text x="17.54" y="195.34" font-size="24.00" fill="#000" text-anchor="start" font-family="Liberation Sans, sans-serif">×</text>
<text x="35.48" y="195.34" font-size="24.00" fill="#000" text-anchor="start" font-family="Liberation Sans, sans-serif">10</text>
<text x="61.63" y="184.04" font-size="22.00" fill="#000" text-anchor="start" font-family="Liberation Sans, sans-serif">13</text>
<text x="-0.04" y="89.09" font-size="24.00" fill="#000" text-anchor="start" font-family="Liberation Sans, sans-serif">8</text>
<text x="17.54" y="89.09" font-size="24.00" fill="#000" text-anchor="start" font-family="Liberation Sans, sans-serif">×</text>
<text x="35.48" y="89.09" font-size="24.00" fill="#000" text-anchor="start" font-family="Liberation Sans, sans-serif">10</text>
<text x="61.63" y="77.79" font-size="22.00" fill="#000" text-anchor="start" font-family="Liberation Sans, sans-serif">13</text>
<text x="94.00" y="21.90" font-size="24.00" fill="#666" text-anchor="middle" font-family="Liberation Sans, sans-serif">P</text>
<text x="865.00" y="512.00" font-size="24.00" fill="#666" text-anchor="middle" font-family="Liberation Sans, sans-serif">r</text>
<clipPath id="ic"><rect x="420.05" y="149.05" width="409.55" height="252.65"/></clipPath>
<g fill="none" clip-path="url(#ic)">
<path d="M420.50 274.50 L421.92 275.21 L423.34 275.91 L424.75 276.60 L426.17 277.30 L427.59 277.99 L429.01 278.67 L430.42 279.35 L431.84 280.03 L433.26 280.71 L434.68 281.38 L436.10 282.05 L437.51 282.72 L438.93 283.38 L440.35 284.04 L441.77 284.70 L443.18 285.35 L444.60 286.00 L446.02 286.65 L447.44 287.29 L448.86 287.93 L450.27 288.57 L451.69 289.21 L453.11 289.84 L454.53 290.47 L455.94 291.09 L457.36 291.72 L458.78 292.34 L460.20 292.96 L461.62 293.57 L463.03 294.18 L464.45 294.79 L465.87 295.40 L467.29 296.00 L468.70 296.60 L470.12 297.20 L471.54 297.79 L472.96 298.38 L474.38 298.97 L475.79 299.56 L477.21 300.14 L478.63 300.72 L480.05 301.30 L481.46 301.88 L482.88 302.45 L484.30 303.02 L485.72 303.59 L487.14 304.15 L488.55 304.71 L489.97 305.27 L491.39 305.83 L492.81 306.39 L494.22 306.94 L495.64 307.49 L497.06 308.03 L498.48 308.58 L499.90 309.12 L501.31 309.66 L502.73 310.20 L504.15 310.73 L505.57 311.27 L506.98 311.80 L508.40 312.32 L509.82 312.85 L511.24 313.37 L512.66 313.89 L514.07 314.41 L515.49 314.93 L516.91 315.44 L518.33 315.95 L519.74 316.46 L521.16 316.97 L522.58 317.47 L524.00 317.97 L525.42 318.47 L526.83 318.97 L528.25 319.47 L529.67 319.96 L531.09 320.45 L532.50 320.94 L533.92 321.43 L535.34 321.91 L536.76 322.40 L538.18 322.88 L539.59 323.35 L541.01 323.83 L542.43 324.31 L543.85 324.78 L545.26 325.25 L546.68 325.72 L548.10 326.18 L549.52 326.65 L550.94 327.11 L552.35 327.57 L553.77 328.03 L555.19 328.48 L556.61 328.94 L558.02 329.39 L559.44 329.84 L560.86 330.29 L562.28 330.73 L563.70 331.18 L565.11 331.62 L566.53 332.06 L567.95 332.50 L569.37 332.94 L570.78 333.37 L572.20 333.80 L573.62 334.23 L575.04 334.66 L576.46 335.09 L577.87 335.52 L579.29 335.94 L580.71 336.36 L582.13 336.78 L583.54 337.20 L584.96 337.62 L586.38 338.03 L587.80 338.45 L589.22 338.86 L590.63 339.27 L592.05 339.68 L593.47 340.08 L594.89 340.49 L596.30 340.89 L597.72 341.29 L599.14 341.69 L600.56 342.09 L601.98 342.49 L603.39 342.88 L604.81 343.28 L606.23 343.67 L607.65 344.06 L609.06 344.44 L610.48 344.83 L611.90 345.22 L613.32 345.60 L614.74 345.98 L616.15 346.36 L617.57 346.74 L618.99 347.12 L620.41 347.49 L621.82 347.87 L623.24 348.24 L624.66 348.61 L626.08 348.98 L627.50 349.35 L628.91 349.72 L630.33 350.08 L631.75 350.45 L633.17 350.81 L634.58 351.17 L636.00 351.53 L637.42 351.88 L638.84 352.24 L640.26 352.60 L641.67 352.95 L643.09 353.30 L644.51 353.65 L645.93 354.00 L647.34 354.35 L648.76 354.70 L650.18 355.04 L651.60 355.38 L653.02 355.73 L654.43 356.07 L655.85 356.41 L657.27 356.75 L658.69 357.08 L660.10 357.42 L661.52 357.75 L662.94 358.09 L664.36 358.42 L665.78 358.75 L667.19 359.08 L668.61 359.40 L670.03 359.73 L671.45 360.06 L672.86 360.38 L674.28 360.70 L675.70 361.02 L677.12 361.34 L678.54 361.66 L679.95 361.98 L681.37 362.30 L682.79 362.61 L684.21 362.93 L685.62 363.24 L687.04 363.55 L688.46 363.86 L689.88 364.17 L691.30 364.48 L692.71 364.78 L694.13 365.09 L695.55 365.39 L696.97 365.70 L698.38 366.00 L699.80 366.30 L701.22 366.60 L702.64 366.90 L704.06 367.19 L705.47 367.49 L706.89 367.79 L708.31 368.08 L709.73 368.37 L711.14 368.66 L712.56 368.95 L713.98 369.24 L715.40 369.53 L716.82 369.82 L718.23 370.11 L719.65 370.39 L721.07 370.68 L722.49 370.96 L723.90 371.24 L725.32 371.52 L726.74 371.80 L728.16 372.08 L729.58 372.36 L730.99 372.63 L732.41 372.91 L733.83 373.18 L735.25 373.46 L736.66 373.73 L738.08 374.00 L739.50 374.27 L740.92 374.54 L742.34 374.81 L743.75 375.08 L745.17 375.34 L746.59 375.61 L748.01 375.87 L749.42 376.14 L750.84 376.40 L752.26 376.66 L753.68 376.92 L755.10 377.18 L756.51 377.44 L757.93 377.70 L759.35 377.96 L760.77 378.21 L762.18 378.47 L763.60 378.72 L765.02 378.97 L766.44 379.23 L767.86 379.48 L769.27 379.73 L770.69 379.98 L772.11 380.23 L773.53 380.47 L774.95 380.72 L776.36 380.97 L777.78 381.21 L779.20 381.46 L780.62 381.70 L782.03 381.94 L783.45 382.18 L784.87 382.42 L786.29 382.66 L787.71 382.90 L789.12 383.14 L790.54 383.38 L791.96 383.61 L793.38 383.85 L794.79 384.08 L796.21 384.32 L797.63 384.55 L799.05 384.78 L800.47 385.01 L801.88 385.24 L803.30 385.47 L804.72 385.70 L806.14 385.93 L807.55 386.16 L808.97 386.38 L810.39 386.61 L811.81 386.83 L813.23 387.06 L814.64 387.28 L816.06 387.50 L817.48 387.72 L818.90 387.94 L820.31 388.16 L821.73 388.38 L823.15 388.60 L824.57 388.82 L825.99 389.04 L827.40 389.25 L828.82 389.47 L830.24 389.68 L831.66 389.90 L833.07 390.11 L834.49 390.32 L835.91 390.54 L837.33 390.75 L838.75 390.96 L840.16 391.17 L841.58 391.37 L843.00 391.58 L844.42 391.79 L845.83 392.00" stroke="#ff0000" stroke-width="4.90" stroke-dasharray="12.5 3.825 4.4 3.825" stroke-dashoffset="3.465"/>
<path d="M420.50 204.35 L421.92 205.31 L423.34 206.27 L424.75 207.22 L426.17 208.17 L427.59 209.12 L429.01 210.06 L430.42 210.99 L431.84 211.92 L433.26 212.85 L434.68 213.77 L436.10 214.69 L437.51 215.60 L438.93 216.51 L440.35 217.41 L441.77 218.31 L443.18 219.21 L444.60 220.10 L446.02 220.98 L447.44 221.86 L448.86 222.74 L450.27 223.62 L451.69 224.49 L453.11 225.35 L454.53 226.21 L455.94 227.07 L457.36 227.92 L458.78 228.77 L460.20 229.62 L461.62 230.46 L463.03 231.29 L464.45 232.13 L465.87 232.96 L467.29 233.78 L468.70 234.60 L470.12 235.42 L471.54 236.23 L472.96 237.04 L474.38 237.85 L475.79 238.65 L477.21 239.45 L478.63 240.24 L480.05 241.03 L481.46 241.82 L482.88 242.60 L484.30 243.38 L485.72 244.16 L487.14 244.93 L488.55 245.70 L489.97 246.47 L491.39 247.23 L492.81 247.99 L494.22 248.74 L495.64 249.49 L497.06 250.24 L498.48 250.98 L499.90 251.72 L501.31 252.46 L502.73 253.20 L504.15 253.93 L505.57 254.65 L506.98 255.38 L508.40 256.10 L509.82 256.82 L511.24 257.53 L512.66 258.24 L514.07 258.95 L515.49 259.65 L516.91 260.36 L518.33 261.05 L519.74 261.75 L521.16 262.44 L522.58 263.13 L524.00 263.82 L525.42 264.50 L526.83 265.18 L528.25 265.86 L529.67 266.53 L531.09 267.20 L532.50 267.87 L533.92 268.53 L535.34 269.19 L536.76 269.85 L538.18 270.51 L539.59 271.16 L541.01 271.81 L542.43 272.46 L543.85 273.10 L545.26 273.74 L546.68 274.38 L548.10 275.02 L549.52 275.65 L550.94 276.28 L552.35 276.91 L553.77 277.53 L555.19 278.16 L556.61 278.77 L558.02 279.39 L559.44 280.00 L560.86 280.62 L562.28 281.22 L563.70 281.83 L565.11 282.43 L566.53 283.03 L567.95 283.63 L569.37 284.23 L570.78 284.82 L572.20 285.41 L573.62 286.00 L575.04 286.58 L576.46 287.17 L577.87 287.75 L579.29 288.32 L580.71 288.90 L582.13 289.47 L583.54 290.04 L584.96 290.61 L586.38 291.18 L587.80 291.74 L589.22 292.30 L590.63 292.86 L592.05 293.42 L593.47 293.97 L594.89 294.52 L596.30 295.07 L597.72 295.62 L599.14 296.16 L600.56 296.70 L601.98 297.24 L603.39 297.78 L604.81 298.31 L606.23 298.85 L607.65 299.38 L609.06 299.91 L610.48 300.43 L611.90 300.96 L613.32 301.48 L614.74 302.00 L616.15 302.52 L617.57 303.03 L618.99 303.55 L620.41 304.06 L621.82 304.57 L623.24 305.07 L624.66 305.58 L626.08 306.08 L627.50 306.58 L628.91 307.08 L630.33 307.58 L631.75 308.07 L633.17 308.57 L634.58 309.06 L636.00 309.54 L637.42 310.03 L638.84 310.52 L640.26 311.00 L641.67 311.48 L643.09 311.96 L644.51 312.43 L645.93 312.91 L647.34 313.38 L648.76 313.85 L650.18 314.32 L651.60 314.79 L653.02 315.26 L654.43 315.72 L655.85 316.18 L657.27 316.64 L658.69 317.10 L660.10 317.55 L661.52 318.01 L662.94 318.46 L664.36 318.91 L665.78 319.36 L667.19 319.81 L668.61 320.25 L670.03 320.70 L671.45 321.14 L672.86 321.58 L674.28 322.02 L675.70 322.45 L677.12 322.89 L678.54 323.32 L679.95 323.75 L681.37 324.18 L682.79 324.61 L684.21 325.04 L685.62 325.46 L687.04 325.88 L688.46 326.30 L689.88 326.72 L691.30 327.14 L692.71 327.56 L694.13 327.97 L695.55 328.39 L696.97 328.80 L698.38 329.21 L699.80 329.62 L701.22 330.02 L702.64 330.43 L704.06 330.83 L705.47 331.23 L706.89 331.63 L708.31 332.03 L709.73 332.43 L711.14 332.83 L712.56 333.22 L713.98 333.61 L715.40 334.00 L716.82 334.39 L718.23 334.78 L719.65 335.17 L721.07 335.55 L722.49 335.94 L723.90 336.32 L725.32 336.70 L726.74 337.08 L728.16 337.46 L729.58 337.84 L730.99 338.21 L732.41 338.59 L733.83 338.96 L735.25 339.33 L736.66 339.70 L738.08 340.07 L739.50 340.43 L740.92 340.80 L742.34 341.16 L743.75 341.53 L745.17 341.89 L746.59 342.25 L748.01 342.61 L749.42 342.96 L750.84 343.32 L752.26 343.67 L753.68 344.03 L755.10 344.38 L756.51 344.73 L757.93 345.08 L759.35 345.43 L760.77 345.77 L762.18 346.12 L763.60 346.46 L765.02 346.81 L766.44 347.15 L767.86 347.49 L769.27 347.83 L770.69 348.16 L772.11 348.50 L773.53 348.84 L774.95 349.17 L776.36 349.50 L777.78 349.83 L779.20 350.17 L780.62 350.49 L782.03 350.82 L783.45 351.15 L784.87 351.48 L786.29 351.80 L787.71 352.12 L789.12 352.45 L790.54 352.77 L791.96 353.09 L793.38 353.40 L794.79 353.72 L796.21 354.04 L797.63 354.35 L799.05 354.67 L800.47 354.98 L801.88 355.29 L803.30 355.60 L804.72 355.91 L806.14 356.22 L807.55 356.53 L808.97 356.83 L810.39 357.14 L811.81 357.44 L813.23 357.75 L814.64 358.05 L816.06 358.35 L817.48 358.65 L818.90 358.95 L820.31 359.25 L821.73 359.54 L823.15 359.84 L824.57 360.13 L825.99 360.43 L827.40 360.72 L828.82 361.01 L830.24 361.30 L831.66 361.59 L833.07 361.88 L834.49 362.16 L835.91 362.45 L837.33 362.74 L838.75 363.02 L840.16 363.30 L841.58 363.59 L843.00 363.87 L844.42 364.15 L845.83 364.43" stroke="#0000ff" stroke-width="4.90"/>
<path d="M420.50 138.75 L421.92 139.94 L423.34 141.12 L424.75 142.30 L426.17 143.47 L427.59 144.63 L429.01 145.79 L430.42 146.94 L431.84 148.09 L433.26 149.23 L434.68 150.37 L436.10 151.50 L437.51 152.62 L438.93 153.74 L440.35 154.86 L441.77 155.97 L443.18 157.07 L444.60 158.17 L446.02 159.26 L447.44 160.35 L448.86 161.43 L450.27 162.51 L451.69 163.58 L453.11 164.65 L454.53 165.71 L455.94 166.77 L457.36 167.82 L458.78 168.86 L460.20 169.91 L461.62 170.94 L463.03 171.98 L464.45 173.00 L465.87 174.03 L467.29 175.04 L468.70 176.06 L470.12 177.06 L471.54 178.07 L472.96 179.07 L474.38 180.06 L475.79 181.05 L477.21 182.03 L478.63 183.01 L480.05 183.99 L481.46 184.96 L482.88 185.93 L484.30 186.89 L485.72 187.85 L487.14 188.80 L488.55 189.75 L489.97 190.69 L491.39 191.63 L492.81 192.57 L494.22 193.50 L495.64 194.43 L497.06 195.35 L498.48 196.27 L499.90 197.18 L501.31 198.09 L502.73 199.00 L504.15 199.90 L505.57 200.80 L506.98 201.69 L508.40 202.58 L509.82 203.47 L511.24 204.35 L512.66 205.23 L514.07 206.10 L515.49 206.97 L516.91 207.84 L518.33 208.70 L519.74 209.56 L521.16 210.41 L522.58 211.26 L524.00 212.11 L525.42 212.95 L526.83 213.79 L528.25 214.63 L529.67 215.46 L531.09 216.29 L532.50 217.11 L533.92 217.93 L535.34 218.75 L536.76 219.56 L538.18 220.37 L539.59 221.18 L541.01 221.98 L542.43 222.78 L543.85 223.58 L545.26 224.37 L546.68 225.16 L548.10 225.94 L549.52 226.72 L550.94 227.50 L552.35 228.28 L553.77 229.05 L555.19 229.82 L556.61 230.58 L558.02 231.35 L559.44 232.10 L560.86 232.86 L562.28 233.61 L563.70 234.36 L565.11 235.10 L566.53 235.85 L567.95 236.59 L569.37 237.32 L570.78 238.05 L572.20 238.78 L573.62 239.51 L575.04 240.23 L576.46 240.95 L577.87 241.67 L579.29 242.38 L580.71 243.10 L582.13 243.80 L583.54 244.51 L584.96 245.21 L586.38 245.91 L587.80 246.61 L589.22 247.30 L590.63 247.99 L592.05 248.68 L593.47 249.36 L594.89 250.04 L596.30 250.72 L597.72 251.40 L599.14 252.07 L600.56 252.74 L601.98 253.41 L603.39 254.07 L604.81 254.73 L606.23 255.39 L607.65 256.05 L609.06 256.70 L610.48 257.35 L611.90 258.00 L613.32 258.65 L614.74 259.29 L616.15 259.93 L617.57 260.57 L618.99 261.20 L620.41 261.84 L621.82 262.46 L623.24 263.09 L624.66 263.72 L626.08 264.34 L627.50 264.96 L628.91 265.57 L630.33 266.19 L631.75 266.80 L633.17 267.41 L634.58 268.02 L636.00 268.62 L637.42 269.22 L638.84 269.82 L640.26 270.42 L641.67 271.02 L643.09 271.61 L644.51 272.20 L645.93 272.78 L647.34 273.37 L648.76 273.95 L650.18 274.53 L651.60 275.11 L653.02 275.69 L654.43 276.26 L655.85 276.83 L657.27 277.40 L658.69 277.97 L660.10 278.53 L661.52 279.09 L662.94 279.65 L664.36 280.21 L665.78 280.77 L667.19 281.32 L668.61 281.87 L670.03 282.42 L671.45 282.97 L672.86 283.51 L674.28 284.05 L675.70 284.59 L677.12 285.13 L678.54 285.67 L679.95 286.20 L681.37 286.73 L682.79 287.26 L684.21 287.79 L685.62 288.32 L687.04 288.84 L688.46 289.36 L689.88 289.88 L691.30 290.40 L692.71 290.92 L694.13 291.43 L695.55 291.94 L696.97 292.45 L698.38 292.96 L699.80 293.46 L701.22 293.97 L702.64 294.47 L704.06 294.97 L705.47 295.47 L706.89 295.96 L708.31 296.46 L709.73 296.95 L711.14 297.44 L712.56 297.93 L713.98 298.41 L715.40 298.90 L716.82 299.38 L718.23 299.86 L719.65 300.34 L721.07 300.82 L722.49 301.29 L723.90 301.77 L725.32 302.24 L726.74 302.71 L728.16 303.18 L729.58 303.64 L730.99 304.11 L732.41 304.57 L733.83 305.03 L735.25 305.49 L736.66 305.95 L738.08 306.41 L739.50 306.86 L740.92 307.31 L742.34 307.77 L743.75 308.22 L745.17 308.66 L746.59 309.11 L748.01 309.55 L749.42 310.00 L750.84 310.44 L752.26 310.88 L753.68 311.31 L755.10 311.75 L756.51 312.18 L757.93 312.62 L759.35 313.05 L760.77 313.48 L762.18 313.91 L763.60 314.33 L765.02 314.76 L766.44 315.18 L767.86 315.60 L769.27 316.02 L770.69 316.44 L772.11 316.86 L773.53 317.28 L774.95 317.69 L776.36 318.10 L777.78 318.51 L779.20 318.92 L780.62 319.33 L782.03 319.74 L783.45 320.14 L784.87 320.55 L786.29 320.95 L787.71 321.35 L789.12 321.75 L790.54 322.15 L791.96 322.55 L793.38 322.94 L794.79 323.33 L796.21 323.73 L797.63 324.12 L799.05 324.51 L800.47 324.89 L801.88 325.28 L803.30 325.67 L804.72 326.05 L806.14 326.43 L807.55 326.81 L808.97 327.19 L810.39 327.57 L811.81 327.95 L813.23 328.33 L814.64 328.70 L816.06 329.07 L817.48 329.44 L818.90 329.82 L820.31 330.18 L821.73 330.55 L823.15 330.92 L824.57 331.28 L825.99 331.65 L827.40 332.01 L828.82 332.37 L830.24 332.73 L831.66 333.09 L833.07 333.45 L834.49 333.81 L835.91 334.16 L837.33 334.51 L838.75 334.87 L840.16 335.22 L841.58 335.57 L843.00 335.92 L844.42 336.27 L845.83 336.61" stroke="#00ff00" stroke-width="4.90" stroke-dasharray="20.2 8.416" stroke-dashoffset="22.33"/>
</g>
<g stroke="#000" fill="none">
<rect x="420.05" y="149.05" width="409.55" height="252.65" stroke-width="1.6"/>
<g stroke-width="1.45">
<line x1="428.30" y1="401.70" x2="428.30" y2="395.80"/>
<line x1="428.30" y1="149.05" x2="428.30" y2="154.95"/>
<line x1="444.03" y1="401.70" x2="444.03" y2="398.05"/>
<line x1="444.03" y1="149.05" x2="444.03" y2="152.70"/>
<line x1="459.76" y1="401.70" x2="459.76" y2="398.05"/>
<line x1="459.76" y1="149.05" x2="459.76" y2="152.70"/>
<line x1="475.48" y1="401.70" x2="475.48" y2="398.05"/>
<line x1="475.48" y1="149.05" x2="475.48" y2="152.70"/>
<line x1="491.21" y1="401.70" x2="491.21" y2="398.05"/>
<line x1="491.21" y1="149.05" x2="491.21" y2="152.70"/>
<line x1="506.94" y1="401.70" x2="506.94" y2="395.80"/>
<line x1="506.94" y1="149.05" x2="506.94" y2="154.95"/>
<line x1="522.67" y1="401.70" x2="522.67" y2="398.05"/>
<line x1="522.67" y1="149.05" x2="522.67" y2="152.70"/>
<line x1="538.40" y1="401.70" x2="538.40" y2="398.05"/>
<line x1="538.40" y1="149.05" x2="538.40" y2="152.70"/>
<line x1="554.12" y1="401.70" x2="554.12" y2="398.05"/>
<line x1="554.12" y1="149.05" x2="554.12" y2="152.70"/>
<line x1="569.85" y1="401.70" x2="569.85" y2="398.05"/>
<line x1="569.85" y1="149.05" x2="569.85" y2="152.70"/>
<line x1="585.58" y1="401.70" x2="585.58" y2="395.80"/>
<line x1="585.58" y1="149.05" x2="585.58" y2="154.95"/>
<line x1="601.31" y1="401.70" x2="601.31" y2="398.05"/>
<line x1="601.31" y1="149.05" x2="601.31" y2="152.70"/>
<line x1="617.04" y1="401.70" x2="617.04" y2="398.05"/>
<line x1="617.04" y1="149.05" x2="617.04" y2="152.70"/>
<line x1="632.76" y1="401.70" x2="632.76" y2="398.05"/>
<line x1="632.76" y1="149.05" x2="632.76" y2="152.70"/>
<line x1="648.49" y1="401.70" x2="648.49" y2="398.05"/>
<line x1="648.49" y1="149.05" x2="648.49" y2="152.70"/>
<line x1="664.22" y1="401.70" x2="664.22" y2="395.80"/>
<line x1="664.22" y1="149.05" x2="664.22" y2="154.95"/>
<line x1="679.95" y1="401.70" x2="679.95" y2="398.05"/>
<line x1="679.95" y1="149.05" x2="679.95" y2="152.70"/>
<line x1="695.68" y1="401.70" x2="695.68" y2="398.05"/>
<line x1="695.68" y1="149.05" x2="695.68" y2="152.70"/>
<line x1="711.40" y1="401.70" x2="711.40" y2="398.05"/>
<line x1="711.40" y1="149.05" x2="711.40" y2="152.70"/>
<line x1="727.13" y1="401.70" x2="727.13" y2="398.05"/>
<line x1="727.13" y1="149.05" x2="727.13" y2="152.70"/>
<line x1="742.86" y1="401.70" x2="742.86" y2="395.80"/>
<line x1="742.86" y1="149.05" x2="742.86" y2="154.95"/>
<line x1="758.59" y1="401.70" x2="758.59" y2="398.05"/>
<line x1="758.59" y1="149.05" x2="758.59" y2="152.70"/>
<line x1="774.32" y1="401.70" x2="774.32" y2="398.05"/>
<line x1="774.32" y1="149.05" x2="774.32" y2="152.70"/>
<line x1="790.04" y1="401.70" x2="790.04" y2="398.05"/>
<line x1="790.04" y1="149.05" x2="790.04" y2="152.70"/>
<line x1="805.77" y1="401.70" x2="805.77" y2="398.05"/>
<line x1="805.77" y1="149.05" x2="805.77" y2="152.70"/>
<line x1="821.50" y1="401.70" x2="821.50" y2="395.80"/>
<line x1="821.50" y1="149.05" x2="821.50" y2="154.95"/>
<line x1="420.05" y1="397.00" x2="426.05" y2="397.00"/>
<line x1="829.60" y1="397.00" x2="823.60" y2="397.00"/>
<line x1="420.05" y1="381.31" x2="423.70" y2="381.31"/>
<line x1="829.60" y1="381.31" x2="825.95" y2="381.31"/>
<line x1="420.05" y1="365.62" x2="423.70" y2="365.62"/>
<line x1="829.60" y1="365.62" x2="825.95" y2="365.62"/>
<line x1="420.05" y1="349.93" x2="423.70" y2="349.93"/>
<line x1="829.60" y1="349.93" x2="825.95" y2="349.93"/>
<line x1="420.05" y1="334.24" x2="423.70" y2="334.24"/>
<line x1="829.60" y1="334.24" x2="825.95" y2="334.24"/>
<line x1="420.05" y1="318.55" x2="426.05" y2="318.55"/>
<line x1="829.60" y1="318.55" x2="823.60" y2="318.55"/>
<line x1="420.05" y1="302.86" x2="423.70" y2="302.86"/>
<line x1="829.60" y1="302.86" x2="825.95" y2="302.86"/>
<line x1="420.05" y1="287.17" x2="423.70" y2="287.17"/>
<line x1="829.60" y1="287.17" x2="825.95" y2="287.17"/>
<line x1="420.05" y1="271.48" x2="423.70" y2="271.48"/>
<line x1="829.60" y1="271.48" x2="825.95" y2="271.48"/>
<line x1="420.05" y1="255.79" x2="423.70" y2="255.79"/>
<line x1="829.60" y1="255.79" x2="825.95" y2="255.79"/>
<line x1="420.05" y1="240.10" x2="426.05" y2="240.10"/>
<line x1="829.60" y1="240.10" x2="823.60" y2="240.10"/>
<line x1="420.05" y1="224.41" x2="423.70" y2="224.41"/>
<line x1="829.60" y1="224.41" x2="825.95" y2="224.41"/>
<line x1="420.05" y1="208.72" x2="423.70" y2="208.72"/>
<line x1="829.60" y1="208.72" x2="825.95" y2="208.72"/>
<line x1="420.05" y1="193.03" x2="423.70" y2="193.03"/>
<line x1="829.60" y1="193.03" x2="825.95" y2="193.03"/>
<line x1="420.05" y1="177.34" x2="423.70" y2="177.34"/>
<line x1="829.60" y1="177.34" x2="825.95" y2="177.34"/>
<line x1="420.05" y1="161.65" x2="426.05" y2="161.65"/>
<line x1="829.60" y1="161.65" x2="823.60" y2="161.65"/>
</g></g>
<text x="363.80" y="167.55" font-size="12.00" fill="#000" stroke="#000" stroke-width="0.25" text-anchor="start" font-family="Liberation Sans, sans-serif">2.0</text>
<text x="382.40" y="167.55" font-size="12.00" fill="#000" stroke="#000" stroke-width="0.25" text-anchor="start" font-family="Liberation Sans, sans-serif">×</text>
<text x="391.15" y="167.55" font-size="12.00" fill="#000" stroke="#000" stroke-width="0.25" text-anchor="start" font-family="Liberation Sans, sans-serif">10</text>
<text x="405.00" y="162.55" font-size="12.30" fill="#000" stroke="#000" stroke-width="0.25" text-anchor="start" font-family="Liberation Sans, sans-serif">9</text>
<text x="364.60" y="246.00" font-size="12.00" fill="#000" stroke="#000" stroke-width="0.25" text-anchor="start" font-family="Liberation Sans, sans-serif">1.5</text>
<text x="382.40" y="246.00" font-size="12.00" fill="#000" stroke="#000" stroke-width="0.25" text-anchor="start" font-family="Liberation Sans, sans-serif">×</text>
<text x="391.15" y="246.00" font-size="12.00" fill="#000" stroke="#000" stroke-width="0.25" text-anchor="start" font-family="Liberation Sans, sans-serif">10</text>
<text x="405.00" y="241.00" font-size="12.30" fill="#000" stroke="#000" stroke-width="0.25" text-anchor="start" font-family="Liberation Sans, sans-serif">9</text>
<text x="364.60" y="324.45" font-size="12.00" fill="#000" stroke="#000" stroke-width="0.25" text-anchor="start" font-family="Liberation Sans, sans-serif">1.0</text>
<text x="382.40" y="324.45" font-size="12.00" fill="#000" stroke="#000" stroke-width="0.25" text-anchor="start" font-family="Liberation Sans, sans-serif">×</text>
<text x="391.15" y="324.45" font-size="12.00" fill="#000" stroke="#000" stroke-width="0.25" text-anchor="start" font-family="Liberation Sans, sans-serif">10</text>
<text x="405.00" y="319.45" font-size="12.30" fill="#000" stroke="#000" stroke-width="0.25" text-anchor="start" font-family="Liberation Sans, sans-serif">9</text>
<text x="363.80" y="402.90" font-size="12.00" fill="#000" stroke="#000" stroke-width="0.25" text-anchor="start" font-family="Liberation Sans, sans-serif">5.0</text>
<text x="382.40" y="402.90" font-size="12.00" fill="#000" stroke="#000" stroke-width="0.25" text-anchor="start" font-family="Liberation Sans, sans-serif">×</text>
<text x="391.15" y="402.90" font-size="12.00" fill="#000" stroke="#000" stroke-width="0.25" text-anchor="start" font-family="Liberation Sans, sans-serif">10</text>
<text x="405.00" y="397.90" font-size="12.30" fill="#000" stroke="#000" stroke-width="0.25" text-anchor="start" font-family="Liberation Sans, sans-serif">8</text>
<clipPath id="lc"><rect x="0" y="0" width="841.6" height="548"/></clipPath>
<g clip-path="url(#lc)">
<text x="404.00" y="422.70" font-size="12.00" fill="#000" stroke="#000" stroke-width="0.25" text-anchor="start" font-family="Liberation Sans, sans-serif">1.3</text>
<text x="422.60" y="422.70" font-size="12.00" fill="#000" stroke="#000" stroke-width="0.25" text-anchor="start" font-family="Liberation Sans, sans-serif">×</text>
<text x="431.35" y="422.70" font-size="12.00" fill="#000" stroke="#000" stroke-width="0.25" text-anchor="start" font-family="Liberation Sans, sans-serif">10</text>
<text x="444.80" y="417.70" font-size="12.30" fill="#000" stroke="#000" stroke-width="0.25" text-anchor="start" font-family="Liberation Sans, sans-serif">9</text>
<text x="482.64" y="422.70" font-size="12.00" fill="#000" stroke="#000" stroke-width="0.25" text-anchor="start" font-family="Liberation Sans, sans-serif">1.4</text>
<text x="501.24" y="422.70" font-size="12.00" fill="#000" stroke="#000" stroke-width="0.25" text-anchor="start" font-family="Liberation Sans, sans-serif">×</text>
<text x="509.99" y="422.70" font-size="12.00" fill="#000" stroke="#000" stroke-width="0.25" text-anchor="start" font-family="Liberation Sans, sans-serif">10</text>
<text x="523.44" y="417.70" font-size="12.30" fill="#000" stroke="#000" stroke-width="0.25" text-anchor="start" font-family="Liberation Sans, sans-serif">9</text>
<text x="561.28" y="422.70" font-size="12.00" fill="#000" stroke="#000" stroke-width="0.25" text-anchor="start" font-family="Liberation Sans, sans-serif">1.5</text>
<text x="579.88" y="422.70" font-size="12.00" fill="#000" stroke="#000" stroke-width="0.25" text-anchor="start" font-family="Liberation Sans, sans-serif">×</text>
<text x="588.63" y="422.70" font-size="12.00" fill="#000" stroke="#000" stroke-width="0.25" text-anchor="start" font-family="Liberation Sans, sans-serif">10</text>
<text x="602.08" y="417.70" font-size="12.30" fill="#000" stroke="#000" stroke-width="0.25" text-anchor="start" font-family="Liberation Sans, sans-serif">9</text>
<text x="639.92" y="422.70" font-size="12.00" fill="#000" stroke="#000" stroke-width="0.25" text-anchor="start" font-family="Liberation Sans, sans-serif">1.6</text>
<text x="658.52" y="422.70" font-size="12.00" fill="#000" stroke="#000" stroke-width="0.25" text-anchor="start" font-family="Liberation Sans, sans-serif">×</text>
<text x="667.27" y="422.70" font-size="12.00" fill="#000" stroke="#000" stroke-width="0.25" text-anchor="start" font-family="Liberation Sans, sans-serif">10</text>
<text x="680.72" y="417.70" font-size="12.30" fill="#000" stroke="#000" stroke-width="0.25" text-anchor="start" font-family="Liberation Sans, sans-serif">9</text>
<text x="718.56" y="422.70" font-size="12.00" fill="#000" stroke="#000" stroke-width="0.25" text-anchor="start" font-family="Liberation Sans, sans-serif">1.7</text>
<text x="737.16" y="422.70" font-size="12.00" fill="#000" stroke="#000" stroke-width="0.25" text-anchor="start" font-family="Liberation Sans, sans-serif">×</text>
<text x="745.91" y="422.70" font-size="12.00" fill="#000" stroke="#000" stroke-width="0.25" text-anchor="start" font-family="Liberation Sans, sans-serif">10</text>
<text x="759.36" y="417.70" font-size="12.30" fill="#000" stroke="#000" stroke-width="0.25" text-anchor="start" font-family="Liberation Sans, sans-serif">9</text>
<text x="797.20" y="422.70" font-size="12.00" fill="#000" stroke="#000" stroke-width="0.25" text-anchor="start" font-family="Liberation Sans, sans-serif">1.8</text>
<text x="815.80" y="422.70" font-size="12.00" fill="#000" stroke="#000" stroke-width="0.25" text-anchor="start" font-family="Liberation Sans, sans-serif">×</text>
<text x="824.55" y="422.70" font-size="12.00" fill="#000" stroke="#000" stroke-width="0.25" text-anchor="start" font-family="Liberation Sans, sans-serif">10</text>
<text x="838.00" y="417.70" font-size="12.30" fill="#000" stroke="#000" stroke-width="0.25" text-anchor="start" font-family="Liberation Sans, sans-serif">9</text>
</g>
</svg>
</body></html>
